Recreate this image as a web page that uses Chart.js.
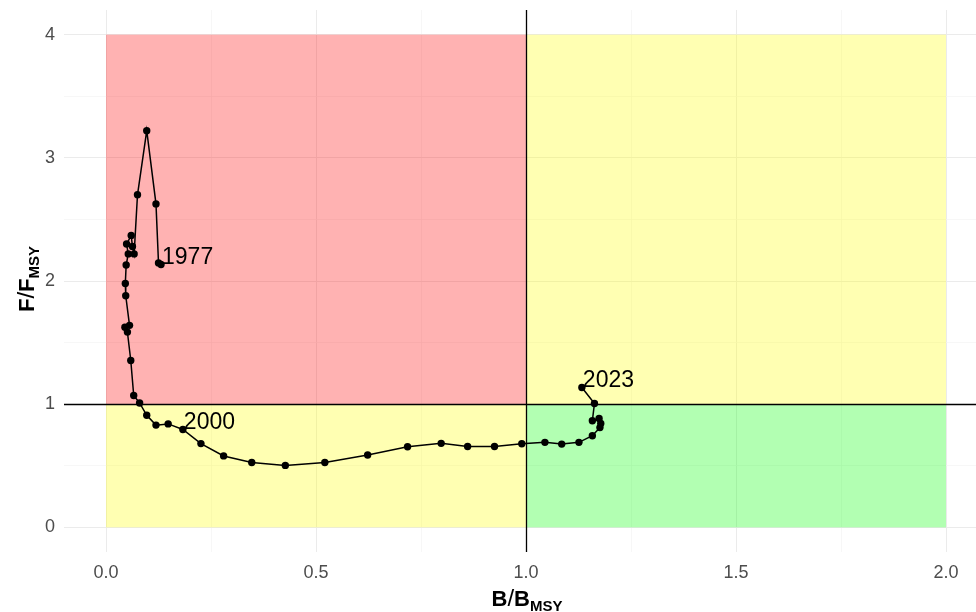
<!DOCTYPE html>
<html>
<head>
<meta charset="utf-8">
<script src="https://cdn.jsdelivr.net/npm/chart.js@4.4.0/dist/chart.umd.min.js"></script>
<style>
  html, body { margin: 0; padding: 0; background: #FFFFFF; }
  #kobe { display: block; }
</style>
</head>
<body>
<canvas id="kobe" width="976" height="612"></canvas>
<script>
// B/Bmsy and F/Fmsy, 1977 -> 2023
const bRatio = [
  0.131, 0.125, 0.119, 0.097, 0.075, 0.067, 0.063, 0.060, 0.049, 0.053,
  0.048, 0.046, 0.047, 0.056, 0.045, 0.051, 0.059, 0.066, 0.080, 0.097,
  0.119, 0.148, 0.183, 0.226, 0.280, 0.347, 0.427, 0.521, 0.623, 0.718,
  0.798, 0.861, 0.925, 0.990, 1.045, 1.085, 1.126, 1.158, 1.176, 1.178,
  1.174, 1.158, 1.163, 1.133
];
const fRatio = [
  2.134, 2.147, 2.626, 3.220, 2.700, 2.220, 2.280, 2.370, 2.300, 2.220,
  2.130, 1.980, 1.880, 1.640, 1.625, 1.585, 1.355, 1.070, 1.010, 0.910,
  0.830, 0.840, 0.795, 0.680, 0.580, 0.527, 0.503, 0.527, 0.587, 0.655,
  0.682, 0.657, 0.657, 0.679, 0.690, 0.676, 0.690, 0.744, 0.810, 0.844,
  0.884, 0.866, 1.006, 1.136
];
const yearLabels = { 0: '1977', 22: '2000', 43: '2023' };

const xTicks = [0, 0.25, 0.5, 0.75, 1, 1.25, 1.5, 1.75, 2];
const yTicks = [0, 0.5, 1, 1.5, 2, 2.5, 3, 3.5, 4];

// quadrants: [xFrom, xTo, yFrom, yTo, colour]
const zones = [
  [0, 1, 1, 4, 'rgba(255, 0, 0, 0.3)'],
  [1, 2, 1, 4, 'rgba(255, 255, 0, 0.3)'],
  [0, 1, 0, 1, 'rgba(255, 255, 0, 0.3)'],
  [1, 2, 0, 1, 'rgba(0, 255, 0, 0.3)']
];
const refB = 1, refF = 1;

const isMajor = (v) => Math.abs(v * 2 - Math.round(v * 2)) < 1e-6;
const isInt = (v) => Math.abs(v - Math.round(v)) < 1e-6;

const kobePlugin = {
  id: 'kobe',
  beforeDatasetsDraw(chart) {
    const { ctx, chartArea: a, scales: { x, y } } = chart;
    ctx.save();
    zones.forEach(([x0, x1, y0, y1, col]) => {
      const px0 = x.getPixelForValue(x0), px1 = x.getPixelForValue(x1);
      const py0 = y.getPixelForValue(y0), py1 = y.getPixelForValue(y1);
      ctx.fillStyle = col;
      ctx.fillRect(px0, py1, px1 - px0, py0 - py1);
    });
    ctx.strokeStyle = '#000000';
    ctx.lineWidth = 1.3;
    const rx = Math.round(x.getPixelForValue(refB)) + 0.5;
    const ry = Math.round(y.getPixelForValue(refF)) + 0.5;
    ctx.beginPath();
    ctx.moveTo(rx, a.top); ctx.lineTo(rx, a.bottom);
    ctx.moveTo(a.left, ry); ctx.lineTo(a.right, ry);
    ctx.stroke();
    ctx.restore();
  },
  afterDatasetsDraw(chart) {
    const { ctx } = chart;
    const meta = chart.getDatasetMeta(0);
    ctx.save();
    ctx.fillStyle = '#000000';
    ctx.font = '23px "Liberation Sans", Arial, sans-serif';
    ctx.textAlign = 'left';
    ctx.textBaseline = 'alphabetic';
    Object.entries(yearLabels).forEach(([i, txt]) => {
      const p = meta.data[+i];
      ctx.fillText(txt, p.x + 1, p.y);
    });
    ctx.restore();
  },
  afterDraw(chart) {
    const { ctx } = chart;
    const drawTitle = (main, sub) => {
      const big = 'bold 22px "Liberation Sans", Arial, sans-serif';
      const slash = '24px "Liberation Sans", Arial, sans-serif';
      const small = 'bold 15px "Liberation Sans", Arial, sans-serif';
      const parts = [[main, big, 0], ['/', slash, 0], [main, big, 0], [sub, small, 5]];
      let w = 0;
      parts.forEach(([t, f]) => { ctx.font = f; w += ctx.measureText(t).width; });
      let cx = -w / 2;
      parts.forEach(([t, f, dy]) => {
        ctx.font = f;
        ctx.fillText(t, cx, 8 + dy);
        cx += ctx.measureText(t).width;
      });
    };
    ctx.save();
    ctx.fillStyle = '#000000';
    ctx.textAlign = 'left';
    ctx.textBaseline = 'alphabetic';
    ctx.translate(527, 598);
    drawTitle('B', 'MSY');
    ctx.restore();
    ctx.save();
    ctx.fillStyle = '#000000';
    ctx.textAlign = 'left';
    ctx.textBaseline = 'alphabetic';
    ctx.translate(26, 279);
    ctx.rotate(-Math.PI / 2);
    drawTitle('F', 'MSY');
    ctx.restore();
  }
};

new Chart(document.getElementById('kobe'), {
  type: 'scatter',
  data: {
    datasets: [{
      data: bRatio.map((b, i) => ({ x: b, y: fRatio[i] })),
      showLine: true,
      borderColor: '#000000',
      borderWidth: 1.5,
      pointRadius: 3.7,
      pointBackgroundColor: '#000000',
      pointBorderWidth: 0,
      tension: 0
    }]
  },
  options: {
    responsive: false,
    animation: false,
    layout: { autoPadding: false, padding: { top: 10, right: 0, bottom: 0, left: 0 } },
    plugins: { legend: { display: false }, tooltip: { enabled: false } },
    scales: {
      x: {
        type: 'linear',
        min: -0.1,
        max: 2.0714,
        afterBuildTicks: (s) => { s.ticks = xTicks.map(v => ({ value: v })); },
        afterFit: (s) => { s.height = 60; s.paddingLeft = 0; s.paddingRight = 0; },
        border: { display: false },
        grid: {
          color: (c) => isMajor(c.tick.value) ? '#EBEBEB' : '#F3F3F3',
          lineWidth: (c) => isMajor(c.tick.value) ? 1 : 0.7,
          drawTicks: false
        },
        ticks: {
          autoSkip: false,
          maxRotation: 0,
          padding: 10,
          color: '#4D4D4D',
          font: { family: '"Liberation Sans", Arial, sans-serif', size: 18 },
          callback: (v) => isMajor(v) ? Number(v).toFixed(1) : ''
        }
      },
      y: {
        type: 'linear',
        min: -0.2,
        max: 4.2,
        afterBuildTicks: (s) => { s.ticks = yTicks.map(v => ({ value: v })); },
        afterFit: (s) => { s.width = 64; s.paddingTop = 0; s.paddingBottom = 0; },
        border: { display: false },
        grid: {
          color: (c) => isInt(c.tick.value) ? '#EBEBEB' : '#F3F3F3',
          lineWidth: (c) => isInt(c.tick.value) ? 1 : 0.7,
          drawTicks: false
        },
        ticks: {
          autoSkip: false,
          padding: 9,
          color: '#4D4D4D',
          font: { family: '"Liberation Sans", Arial, sans-serif', size: 18 },
          callback: (v) => isInt(v) ? String(Math.round(v)) : ''
        }
      }
    }
  },
  plugins: [kobePlugin]
});
</script>
</body>
</html>
